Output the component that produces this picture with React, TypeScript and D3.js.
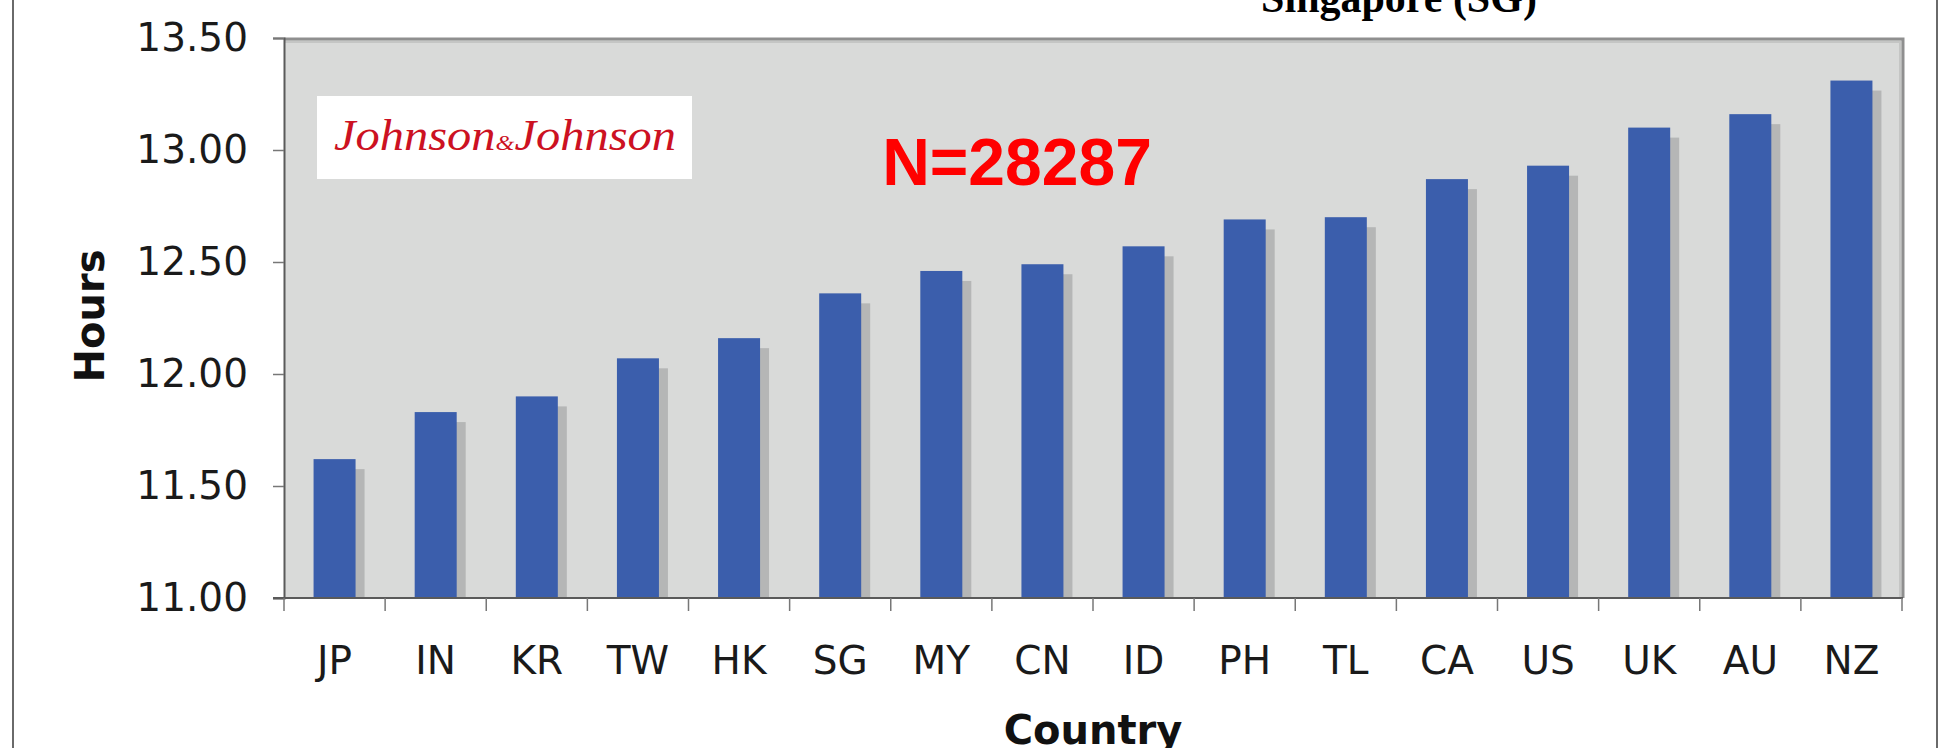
import { useEffect, useRef } from "react";
import * as d3 from "d3";

// countries, sorted by average hours
const countries = ["JP", "IN", "KR", "TW", "HK", "SG", "MY", "CN", "ID", "PH", "TL", "CA", "US", "UK", "AU", "NZ"];
const hours = [11.62, 11.83, 11.9, 12.07, 12.16, 12.36, 12.46, 12.49, 12.57, 12.69, 12.7, 12.87, 12.93, 13.1, 13.16, 13.31];
const yTicks = [11, 11.5, 12, 12.5, 13, 13.5];

const titleText = "Singapore (SG)";
const sampleText = "N=28287";

export default function App() {
  const ref = useRef<SVGSVGElement>(null);

  useEffect(() => {
    const svg = d3.select(ref.current);
    svg.selectAll("*").remove();

    const width = 1951;
    const height = 748;
    const left = 284;
    const right = 1902;
    const top = 38;
    const bottom = 598;
    const barW = 42;
    const sans = "'DejaVu Sans', Verdana, sans-serif";

    const data = countries.map((c, i) => ({ c, v: hours[i] }));

    const x = d3.scaleBand().domain(countries).range([left, right]);
    const y = d3.scaleLinear().domain([11, 13.5]).range([bottom, top]);

    svg.append("rect").attr("width", width).attr("height", height).attr("fill", "#fff");

    // outer frame lines
    svg.append("line").attr("x1", 13).attr("x2", 13).attr("y1", 0).attr("y2", height)
      .attr("stroke", "#6a6a6a").attr("stroke-width", 2);
    svg.append("line").attr("x1", 1937).attr("x2", 1937).attr("y1", 0).attr("y2", height)
      .attr("stroke", "#6a6a6a").attr("stroke-width", 2);

    // title, mostly cut off at the top
    svg.append("text")
      .attr("x", 1399).attr("y", 12)
      .attr("text-anchor", "middle")
      .attr("font-family", "'Liberation Serif', 'Times New Roman', serif")
      .attr("font-weight", "bold")
      .attr("font-size", 42)
      .attr("fill", "#000")
      .text(titleText);

    // plot area
    svg.append("rect")
      .attr("x", left).attr("y", top)
      .attr("width", right - left).attr("height", bottom - top)
      .attr("fill", "#d9dad9");
    svg.append("path")
      .attr("d", `M${left},${top + 1}H${right + 1}V${bottom}`)
      .attr("fill", "none").attr("stroke", "#8f8f8f").attr("stroke-width", 3);
    svg.append("path")
      .attr("d", `M${left},${top + 4}H${right - 2}V${bottom}`)
      .attr("fill", "none").attr("stroke", "#c4c5c4").attr("stroke-width", 2);

    // logo box
    svg.append("rect")
      .attr("x", 317).attr("y", 96).attr("width", 375).attr("height", 83)
      .attr("fill", "#fff");
    const logo = svg.append("text")
      .attr("x", 334).attr("y", 150)
      .attr("font-family", "'Liberation Serif', 'DejaVu Serif', serif")
      .attr("font-style", "italic")
      .attr("font-size", 44)
      .attr("fill", "#cc1122")
      .attr("textLength", 342)
      .attr("lengthAdjust", "spacingAndGlyphs");
    logo.append("tspan").text("Johnson");
    logo.append("tspan").attr("font-size", 22).text("&");
    logo.append("tspan").text("Johnson");

    svg.append("text")
      .attr("x", 1017).attr("y", 185)
      .attr("text-anchor", "middle")
      .attr("font-family", "'Liberation Sans', Arial, sans-serif")
      .attr("font-weight", "bold")
      .attr("font-size", 66)
      .attr("fill", "#ff0000")
      .text(sampleText);

    const off = (x.bandwidth() - barW) / 2;

    // shadows
    svg.append("g")
      .selectAll("rect")
      .data(data)
      .enter()
      .append("rect")
      .attr("x", (d) => (x(d.c) as number) + off + 9)
      .attr("y", (d) => y(d.v) + 10)
      .attr("width", barW)
      .attr("height", (d) => bottom - y(d.v) - 10)
      .attr("fill", "#b5b6b6");

    // bars
    svg.append("g")
      .selectAll("rect")
      .data(data)
      .enter()
      .append("rect")
      .attr("x", (d) => (x(d.c) as number) + off)
      .attr("y", (d) => y(d.v))
      .attr("width", barW)
      .attr("height", (d) => bottom - y(d.v))
      .attr("fill", "#3b5eac");

    // y axis
    const gy = svg.append("g")
      .attr("transform", `translate(${left},0)`)
      .call(d3.axisLeft(y).tickValues(yTicks).tickFormat(d3.format(".2f")).tickSize(11).tickPadding(25));
    gy.select(".domain").attr("stroke", "#5a5a5a").attr("stroke-width", 2);
    gy.selectAll(".tick line").attr("stroke", "#777").attr("stroke-width", 1.5);
    gy.selectAll(".tick text")
      .attr("font-family", sans).attr("font-size", 39).attr("fill", "#1a1a1a");

    // x axis
    const gx = svg.append("g")
      .attr("transform", `translate(0,${bottom})`)
      .call(d3.axisBottom(x).tickSize(0).tickPadding(48));
    gx.select(".domain").remove();
    gx.selectAll(".tick text")
      .attr("font-family", sans).attr("font-size", 39).attr("fill", "#1a1a1a");
    svg.append("line")
      .attr("x1", left - 11).attr("x2", right + 1).attr("y1", bottom).attr("y2", bottom)
      .attr("stroke", "#5a5a5a").attr("stroke-width", 2);
    svg.append("g")
      .selectAll("line")
      .data([...countries.map((c) => x(c) as number), right])
      .enter()
      .append("line")
      .attr("x1", (d) => d).attr("x2", (d) => d)
      .attr("y1", bottom).attr("y2", bottom + 13)
      .attr("stroke", "#777").attr("stroke-width", 1.5);

    // axis titles
    svg.append("text")
      .attr("transform", `translate(104,316) rotate(-90)`)
      .attr("text-anchor", "middle")
      .attr("font-family", sans).attr("font-weight", "bold").attr("font-size", 40)
      .attr("fill", "#111")
      .text("Hours");
    svg.append("text")
      .attr("x", (left + right) / 2).attr("y", 744)
      .attr("text-anchor", "middle")
      .attr("font-family", sans).attr("font-weight", "bold").attr("font-size", 40)
      .attr("fill", "#111")
      .text("Country");
  }, []);

  return (
    <svg
      ref={ref}
      width={1951}
      height={748}
      style={{ position: "absolute", left: 0, top: 0, display: "block" }}
    ></svg>
  );
}
